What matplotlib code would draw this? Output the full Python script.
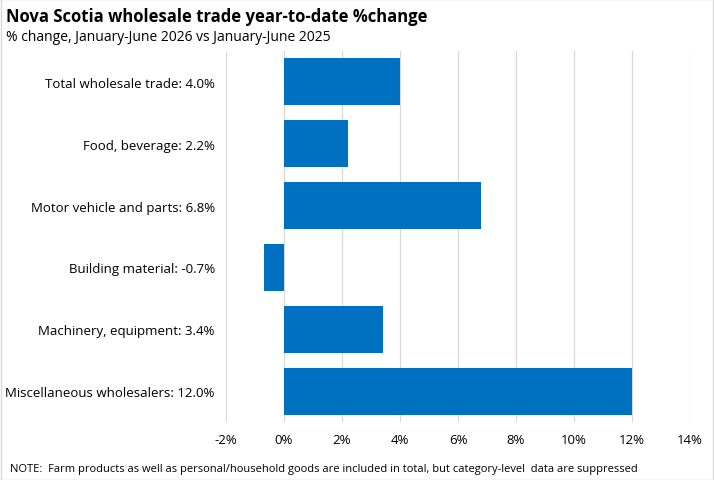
import matplotlib
matplotlib.use("Agg")
import matplotlib.pyplot as plt

plt.rcParams['font.family'] = ['Open Sans', 'DejaVu Sans']

categories = ["Total wholesale trade: 4.0%", "Food, beverage: 2.2%", "Motor vehicle and parts: 6.8%",
              "Building material: -0.7%", "Machinery, equipment: 3.4%", "Miscellaneous wholesalers: 12.0%"]
values = [4.0, 2.2, 6.8, -0.7, 3.4, 12.0]
ticks = [-2, 0, 2, 4, 6, 8, 10, 12, 14]
tick_labels = ["-2%", "0%", "2%", "4%", "6%", "8%", "10%", "12%", "14%"]

fig = plt.figure(figsize=(7.14, 4.81), dpi=100)
ax = fig.add_axes([0.3165, 0.1206, 0.65, 0.7714])
y = list(range(len(values)))
ax.barh(y, values, height=0.76, color="#0070C0", zorder=3)
ax.set_ylim(len(values) - 0.5, -0.5)
ax.set_xlim(-2, 14)
ax.set_xticks(ticks)
ax.set_xticklabels(tick_labels, fontsize=9.5)
ax.set_yticks(y)
ax.set_yticklabels(categories, fontsize=9.5)
ax.grid(axis='x', color="#D9D9D9", linewidth=0.9, zorder=0)
for s in ax.spines.values():
    s.set_visible(False)
ax.tick_params(length=0, pad=8)
fig.text(0.008, 0.965, "Nova Scotia wholesale trade year-to-date %change", fontsize=12, fontweight='bold', va='center')
fig.text(0.008, 0.923, "% change, January-June 2026 vs January-June 2025", fontsize=10, va='center')
fig.text(0.014, 0.023, "NOTE:  Farm products as well as personal/household goods are included in total, but category-level  data are suppressed",
         fontsize=8, va='center')
fig.patches.append(plt.Rectangle((0.001, 0.001), 0.998, 0.998, transform=fig.transFigure,
                                 fill=False, edgecolor="#D9D9D9", linewidth=1))
fig.savefig("out.png", dpi=100)
